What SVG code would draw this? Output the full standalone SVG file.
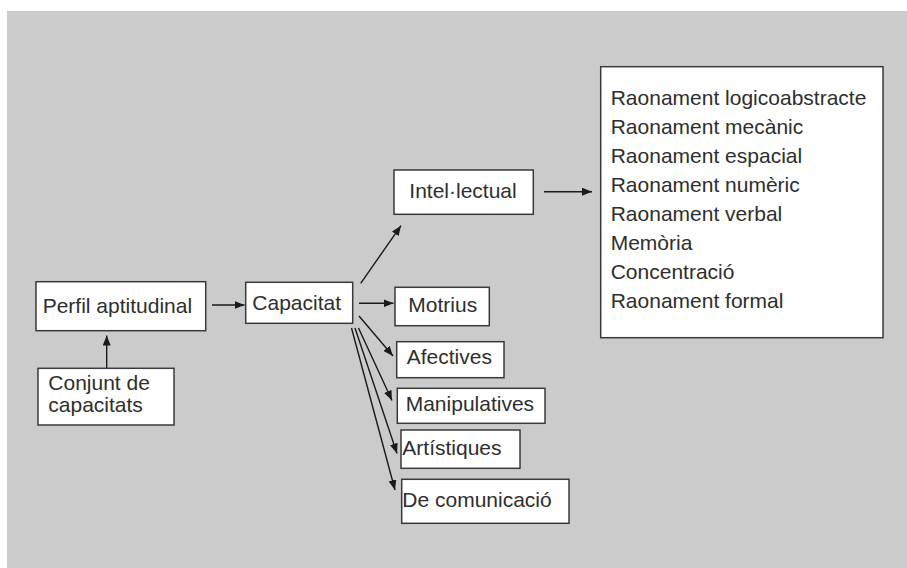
<svg xmlns="http://www.w3.org/2000/svg" width="907" height="568" viewBox="0 0 907 568">
  <defs>
    <marker id="arrow" viewBox="0 0 10 8" refX="10" refY="4" markerWidth="10" markerHeight="8" markerUnits="userSpaceOnUse" orient="auto">
      <path d="M0,0 L10,4 L0,8 Z" fill="#1a1a1a"/>
    </marker>
    <style>
      .box { fill: #ffffff; stroke: #3a3a3a; stroke-width: 1.5; }
      .lbl { font-family: "Liberation Sans", Arial, Helvetica, sans-serif; font-size: 21px; fill: #2e2e2e; }
      .edge { stroke: #1a1a1a; stroke-width: 1.4; fill: none; marker-end: url(#arrow); }
    </style>
  </defs>

  <rect x="0" y="0" width="907" height="568" fill="#ffffff"/>
  <rect x="7" y="11" width="900" height="557" fill="#cbcbcb"/>

  <!-- connectors -->
  <g id="connectors">
    <line class="edge" x1="106.7" y1="368.3" x2="106.7" y2="335.5"/>
    <line class="edge" x1="212" y1="305" x2="244.5" y2="305"/>
    <line class="edge" x1="360.7" y1="283.3" x2="401" y2="225.7"/>
    <line class="edge" x1="359" y1="303.3" x2="393.5" y2="303.3"/>
    <line class="edge" x1="359" y1="316" x2="393" y2="356"/>
    <line class="edge" x1="358.5" y1="328" x2="392" y2="400.5"/>
    <line class="edge" x1="355" y1="328" x2="397" y2="453.5"/>
    <line class="edge" x1="351.5" y1="328" x2="395" y2="490"/>
    <line class="edge" x1="544" y1="191.7" x2="592" y2="191.7"/>
  </g>

  <g id="perfil">
    <rect class="box" x="36" y="281.7" width="169.7" height="49"/>
    <text class="lbl" x="42.7" y="312.7">Perfil aptitudinal</text>
  </g>

  <g id="conjunt">
    <rect class="box" x="38" y="368.3" width="136" height="56.7"/>
    <text class="lbl" x="48.3" y="389.5">Conjunt de</text>
    <text class="lbl" x="48.3" y="411.5">capacitats</text>
  </g>

  <g id="capacitat">
    <rect class="box" x="245.7" y="282.3" width="107" height="41"/>
    <text class="lbl" x="252.3" y="310">Capacitat</text>
  </g>

  <g id="intellectual">
    <rect class="box" x="394" y="170" width="139.3" height="44.3"/>
    <text class="lbl" x="409.3" y="198.3">Intel·lectual</text>
  </g>

  <g id="motrius">
    <rect class="box" x="395" y="287.3" width="94.3" height="38.4"/>
    <text class="lbl" x="408.3" y="311.7">Motrius</text>
  </g>

  <g id="afectives">
    <rect class="box" x="396.7" y="341.7" width="107.3" height="36"/>
    <text class="lbl" x="406.7" y="364.3">Afectives</text>
  </g>

  <g id="manipulatives">
    <rect class="box" x="397.3" y="388.3" width="147.7" height="35"/>
    <text class="lbl" x="405.7" y="411">Manipulatives</text>
  </g>

  <g id="artistiques">
    <rect class="box" x="401" y="430" width="119" height="38.3"/>
    <text class="lbl" x="402.3" y="455">Artístiques</text>
  </g>

  <g id="comunicacio">
    <rect class="box" x="401.7" y="479.3" width="167.3" height="44"/>
    <text class="lbl" x="402.3" y="506.7">De comunicació</text>
  </g>

  <g id="raonaments">
    <rect class="box" x="600.7" y="66.7" width="282.3" height="271"/>
    <text class="lbl" x="610.7" y="105">Raonament logicoabstracte</text>
    <text class="lbl" x="610.7" y="134">Raonament mecànic</text>
    <text class="lbl" x="610.7" y="163.3">Raonament espacial</text>
    <text class="lbl" x="610.7" y="192.3">Raonament numèric</text>
    <text class="lbl" x="610.7" y="221.3">Raonament verbal</text>
    <text class="lbl" x="610.7" y="250">Memòria</text>
    <text class="lbl" x="610.7" y="279.3">Concentració</text>
    <text class="lbl" x="610.7" y="308.3">Raonament formal</text>
  </g>
</svg>
